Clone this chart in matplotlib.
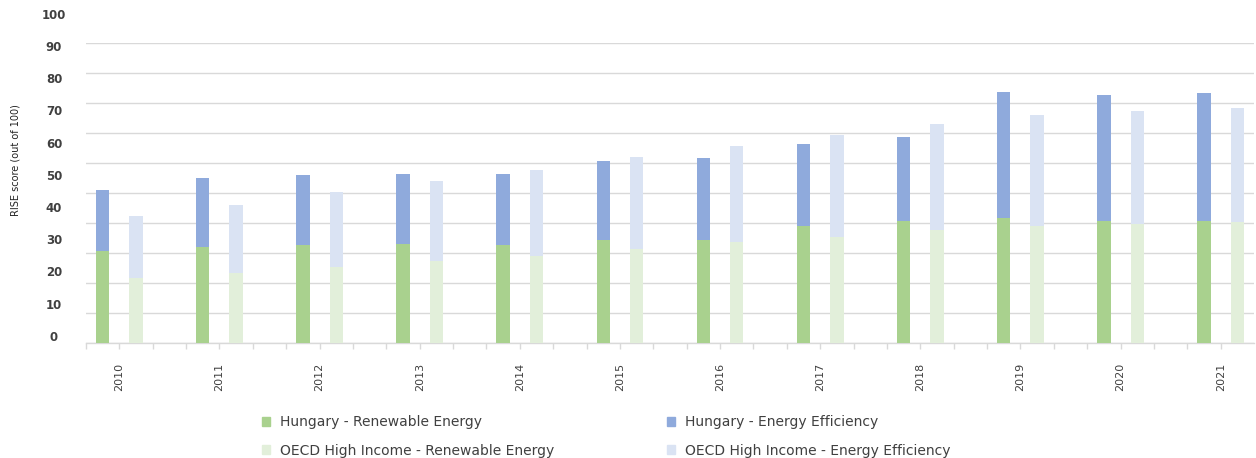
import matplotlib
matplotlib.use('Agg')
import matplotlib.pyplot as plt
from matplotlib.patches import Patch
import numpy as np

# RISE scores
years = ['2010', '2011', '2012', '2013', '2014', '2015',
         '2016', '2017', '2018', '2019', '2020', '2021']
hu_renewable = [30.6, 32.0, 32.6, 33.0, 32.7, 34.4, 34.4, 39.0, 40.6, 41.8, 40.6, 40.6]
hu_efficiency = [20.4, 22.9, 23.3, 23.2, 23.5, 26.4, 27.4, 27.3, 28.1, 42.0, 42.0, 42.6]
oecd_renewable = [21.8, 23.3, 25.4, 27.4, 29.1, 31.4, 33.8, 35.4, 37.8, 39.1, 39.7, 40.3]
oecd_efficiency = [20.5, 22.7, 25.0, 26.7, 28.7, 30.7, 32.0, 34.0, 35.2, 36.9, 37.6, 38.0]
y_ticks = [0, 10, 20, 30, 40, 50, 60, 70, 80, 90, 100]

C_HU_RE = '#a9d18e'
C_HU_EE = '#8faadc'
C_OE_RE = '#e2efda'
C_OE_EE = '#dae3f3'
TEXT = '#404040'
GRID = '#d9d9d9'

W, H = 1256, 458
fig = plt.figure(figsize=(W / 100, H / 100), dpi=100)
ax = fig.add_axes([86 / W, 1 - 343 / H, (1254 - 86) / W, 300 / H])

n = len(years)
x_hu = np.arange(n) * 3
x_oe = x_hu + 1
bw = 0.4

ax.bar(x_hu, hu_renewable, bw, color=C_HU_RE, zorder=3)
ax.bar(x_hu, hu_efficiency, bw, bottom=hu_renewable, color=C_HU_EE, zorder=3)
ax.bar(x_oe, oecd_renewable, bw, color=C_OE_RE, zorder=3)
ax.bar(x_oe, oecd_efficiency, bw, bottom=oecd_renewable, color=C_OE_EE, zorder=3)

ax.set_xlim(-0.5, 3 * n - 1.5)
ax.set_ylim(0, 100)

# grid
ax.set_yticks(y_ticks)
ax.set_yticklabels([])
ax.tick_params(axis='y', length=0)
ax.yaxis.grid(True, color=GRID, linewidth=1)
ax.set_axisbelow(True)

for s in ['top', 'right', 'left']:
    ax.spines[s].set_visible(False)
ax.spines['bottom'].set_color(GRID)
ax.spines['bottom'].set_linewidth(1)

# x ticks at every slot boundary, year labels between the two bars
ax.set_xticks(x_hu + 0.5)
ax.set_xticklabels(years, rotation=90, fontsize=8, color=TEXT)
ax.set_xticks(np.arange(-0.5, 3 * n - 1.5, 1.0), minor=True)
ax.tick_params(axis='x', which='both', direction='out', length=4,
               color=GRID, width=1)
ax.tick_params(axis='x', which='major', pad=10)

# y labels as drawn in the reference (slightly spread relative to the grid)
for v in y_ticks:
    ypx = 337.3 - 3.22 * v
    fig.text(54 / W, 1 - ypx / H, str(v), ha='center', va='center',
             fontsize=8.5, fontweight='bold', color=TEXT)

fig.text(15 / W, 1 - 160 / H, 'RISE score (out of 100)', rotation=90,
         ha='center', va='center', fontsize=7, color='#222222')

handles = [Patch(color=C_HU_RE), Patch(color=C_OE_RE),
           Patch(color=C_HU_EE), Patch(color=C_OE_EE)]
labels = ['Hungary - Renewable Energy', 'OECD High Income - Renewable Energy',
          'Hungary - Energy Efficiency', 'OECD High Income - Energy Efficiency']
leg = fig.legend(handles, labels, ncol=2, loc='upper left',
                 bbox_to_anchor=(262 / W, 1 - 415 / H), frameon=False,
                 fontsize=10, handlelength=0.6, handleheight=0.6,
                 handletextpad=0.7, columnspacing=8.1, labelspacing=1.05,
                 borderpad=0, borderaxespad=0)
for t in leg.get_texts():
    t.set_color(TEXT)

fig.savefig('out.png', dpi=100)
